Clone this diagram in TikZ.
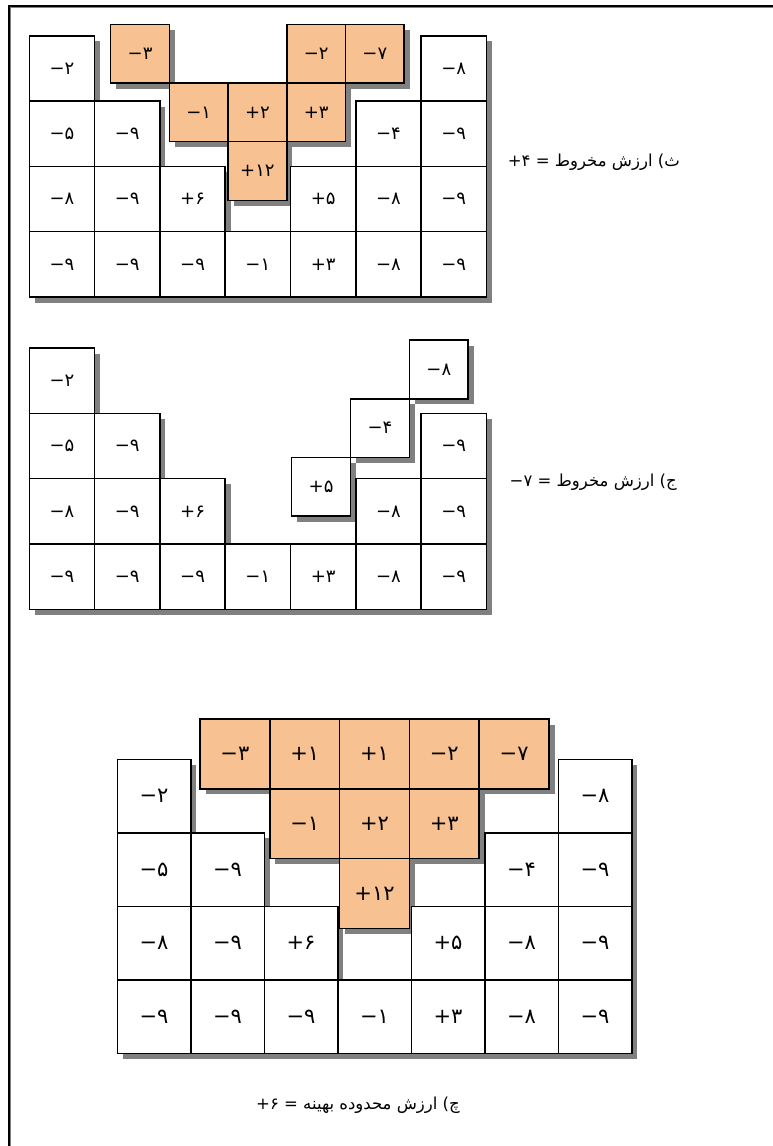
\documentclass[tikz,border=0pt]{standalone}
\usepackage{fontspec}
\usetikzlibrary{calc}
\newfontfamily\fa[Script=Arabic]{DejaVu Sans}
\pgfdeclarelayer{shadow}
\pgfsetlayers{shadow,main}
\definecolor{cone}{RGB}{248,193,145}
\definecolor{shd}{RGB}{128,128,128}
\tikzset{
  cellbox/.style={draw=black, line width=1.5pt, fill=white, inner sep=0pt, outer sep=0pt, font=\fa\fontsize{18}{18}\selectfont},
  conebox/.style={cellbox, fill=cone},
  bigcell/.style={cellbox, font=\fa\fontsize{21}{21}\selectfont},
  bigcone/.style={conebox, font=\fa\fontsize{21}{21}\selectfont},
  lbl/.style={font=\fa\fontsize{16.5}{18}\selectfont, inner sep=0pt},
  framepen/.style={line width=1.4pt},
  frameshd/.style={draw=shd, line width=1pt},
}
\newcommand\shoff{5.5}
\newcommand\Cell[6]{%
  \begin{pgfonlayer}{shadow}
    \fill[shd] ({#2+\shoff},{#3+\shoff}) rectangle ++(#4,#4);
  \end{pgfonlayer}
  \node[#5, minimum size=#4pt] (#1) at ({#2+#4/2},{#3+#4/2}) {#6};
}
\newcommand\V[2]{\hbox{#1}\hbox{#2}}
\begin{document}
\begin{tikzpicture}[x=1pt,y=-1pt]
\useasboundingbox (0,0) rectangle (772,1146);
% outer frame
\coordinate (fa) at (9,1200);
\coordinate (fb) at (9,6);
\coordinate (fc) at (800,6);
\draw[framepen] (fa) -- (fb) -- (fc);
\draw[frameshd] ($(fa)+(1.4,0)$) -- ($(fb)+(1.4,1.2)$) -- ($(fc)+(0,1.2)$);

% ---------- top diagram ----------
\Cell{a03}{29.3}{35.8}{65.3}{cellbox}{\V{−}{۲}}
\Cell{a02}{29.3}{101.1}{65.3}{cellbox}{\V{−}{۵}}
\Cell{a01}{29.3}{166.4}{65.3}{cellbox}{\V{−}{۸}}
\Cell{a00}{29.3}{231.7}{65.3}{cellbox}{\V{−}{۹}}
\Cell{a12}{94.6}{101.1}{65.3}{cellbox}{\V{−}{۹}}
\Cell{a11}{94.6}{166.4}{65.3}{cellbox}{\V{−}{۹}}
\Cell{a10}{94.6}{231.7}{65.3}{cellbox}{\V{−}{۹}}
\Cell{a21}{159.9}{166.4}{65.3}{cellbox}{\V{+}{۶}}
\Cell{a20}{159.9}{231.7}{65.3}{cellbox}{\V{−}{۹}}
\Cell{a30}{225.2}{231.7}{65.3}{cellbox}{\V{−}{۱}}
\Cell{a41}{290.5}{166.4}{65.3}{cellbox}{\V{+}{۵}}
\Cell{a40}{290.5}{231.7}{65.3}{cellbox}{\V{+}{۳}}
\Cell{a52}{355.8}{101.1}{65.3}{cellbox}{\V{−}{۴}}
\Cell{a51}{355.8}{166.4}{65.3}{cellbox}{\V{−}{۸}}
\Cell{a50}{355.8}{231.7}{65.3}{cellbox}{\V{−}{۸}}
\Cell{a63}{421.1}{35.8}{65.3}{cellbox}{\V{−}{۸}}
\Cell{a62}{421.1}{101.1}{65.3}{cellbox}{\V{−}{۹}}
\Cell{a61}{421.1}{166.4}{65.3}{cellbox}{\V{−}{۹}}
\Cell{a60}{421.1}{231.7}{65.3}{cellbox}{\V{−}{۹}}
% cone (top)
\Cell{ao13}{110.7}{24.3}{58.7}{conebox}{\V{−}{۳}}
\Cell{ao43}{286.8}{24.3}{58.7}{conebox}{\V{−}{۲}}
\Cell{ao53}{345.5}{24.3}{58.7}{conebox}{\V{−}{۷}}
\Cell{ao22}{169.4}{83}{58.7}{conebox}{\V{−}{۱}}
\Cell{ao32}{228.1}{83}{58.7}{conebox}{\V{+}{۲}}
\Cell{ao42}{286.8}{83}{58.7}{conebox}{\V{+}{۳}}
\Cell{ao31}{228.1}{141.7}{58.7}{conebox}{\V{+}{۱۲}}
\node[lbl, anchor=east] (lblA) at (680,162) {\V{+}{۴} = \hbox{مخروط} \hbox{ارزش} \hbox{)}\hbox{ث}};

% ---------- middle diagram ----------
\Cell{b03}{29.3}{348.1}{65.3}{cellbox}{\V{−}{۲}}
\Cell{b02}{29.3}{413.4}{65.3}{cellbox}{\V{−}{۵}}
\Cell{b01}{29.3}{478.7}{65.3}{cellbox}{\V{−}{۸}}
\Cell{b00}{29.3}{544}{65.3}{cellbox}{\V{−}{۹}}
\Cell{b12}{94.6}{413.4}{65.3}{cellbox}{\V{−}{۹}}
\Cell{b11}{94.6}{478.7}{65.3}{cellbox}{\V{−}{۹}}
\Cell{b10}{94.6}{544}{65.3}{cellbox}{\V{−}{۹}}
\Cell{b21}{159.9}{478.7}{65.3}{cellbox}{\V{+}{۶}}
\Cell{b20}{159.9}{544}{65.3}{cellbox}{\V{−}{۹}}
\Cell{b30}{225.2}{544}{65.3}{cellbox}{\V{−}{۱}}
\Cell{b40}{290.5}{544}{65.3}{cellbox}{\V{+}{۳}}
\Cell{b51}{355.8}{478.7}{65.3}{cellbox}{\V{−}{۸}}
\Cell{b50}{355.8}{544}{65.3}{cellbox}{\V{−}{۸}}
\Cell{b62}{421.1}{413.4}{65.3}{cellbox}{\V{−}{۹}}
\Cell{b61}{421.1}{478.7}{65.3}{cellbox}{\V{−}{۹}}
\Cell{b60}{421.1}{544}{65.3}{cellbox}{\V{−}{۹}}
% lifted cells (middle)
\Cell{bo41}{291.7}{457.3}{58.7}{cellbox}{\V{+}{۵}}
\Cell{bo52}{350.6}{398.8}{58.7}{cellbox}{\V{−}{۴}}
\Cell{bo63}{409.5}{340.2}{58.7}{cellbox}{\V{−}{۸}}
\node[lbl, anchor=east] (lblB) at (677,482) {\V{−}{۷} = \hbox{مخروط} \hbox{ارزش} \hbox{)}\hbox{ج}};

% ---------- bottom diagram ----------
\Cell{c03}{117.3}{759.3}{73.5}{bigcell}{\V{−}{۲}}
\Cell{c02}{117.3}{832.8}{73.5}{bigcell}{\V{−}{۵}}
\Cell{c01}{117.3}{906.3}{73.5}{bigcell}{\V{−}{۸}}
\Cell{c00}{117.3}{979.8}{73.5}{bigcell}{\V{−}{۹}}
\Cell{c12}{190.8}{832.8}{73.5}{bigcell}{\V{−}{۹}}
\Cell{c11}{190.8}{906.3}{73.5}{bigcell}{\V{−}{۹}}
\Cell{c10}{190.8}{979.8}{73.5}{bigcell}{\V{−}{۹}}
\Cell{c21}{264.3}{906.3}{73.5}{bigcell}{\V{+}{۶}}
\Cell{c20}{264.3}{979.8}{73.5}{bigcell}{\V{−}{۹}}
\Cell{c30}{337.8}{979.8}{73.5}{bigcell}{\V{−}{۱}}
\Cell{c41}{411.3}{906.3}{73.5}{bigcell}{\V{+}{۵}}
\Cell{c40}{411.3}{979.8}{73.5}{bigcell}{\V{+}{۳}}
\Cell{c52}{484.8}{832.8}{73.5}{bigcell}{\V{−}{۴}}
\Cell{c51}{484.8}{906.3}{73.5}{bigcell}{\V{−}{۸}}
\Cell{c50}{484.8}{979.8}{73.5}{bigcell}{\V{−}{۸}}
\Cell{c63}{558.3}{759.3}{73.5}{bigcell}{\V{−}{۸}}
\Cell{c62}{558.3}{832.8}{73.5}{bigcell}{\V{−}{۹}}
\Cell{c61}{558.3}{906.3}{73.5}{bigcell}{\V{−}{۹}}
\Cell{c60}{558.3}{979.8}{73.5}{bigcell}{\V{−}{۹}}
% cone (bottom)
\Cell{co13}{200}{719}{69.8}{bigcone}{\V{−}{۳}}
\Cell{co23}{269.8}{719}{69.8}{bigcone}{\V{+}{۱}}
\Cell{co33}{339.6}{719}{69.8}{bigcone}{\V{+}{۱}}
\Cell{co43}{409.4}{719}{69.8}{bigcone}{\V{−}{۲}}
\Cell{co53}{479.2}{719}{69.8}{bigcone}{\V{−}{۷}}
\Cell{co22}{269.8}{788.8}{69.8}{bigcone}{\V{−}{۱}}
\Cell{co32}{339.6}{788.8}{69.8}{bigcone}{\V{+}{۲}}
\Cell{co42}{409.4}{788.8}{69.8}{bigcone}{\V{+}{۳}}
\Cell{co31}{339.6}{858.6}{69.8}{bigcone}{\V{+}{۱۲}}
\node[lbl, anchor=east] (lblC) at (460,1105) {\V{+}{۶} = \hbox{بهینه} \hbox{محدوده} \hbox{ارزش} \hbox{)}\hbox{چ}};
\end{tikzpicture}
\end{document}
